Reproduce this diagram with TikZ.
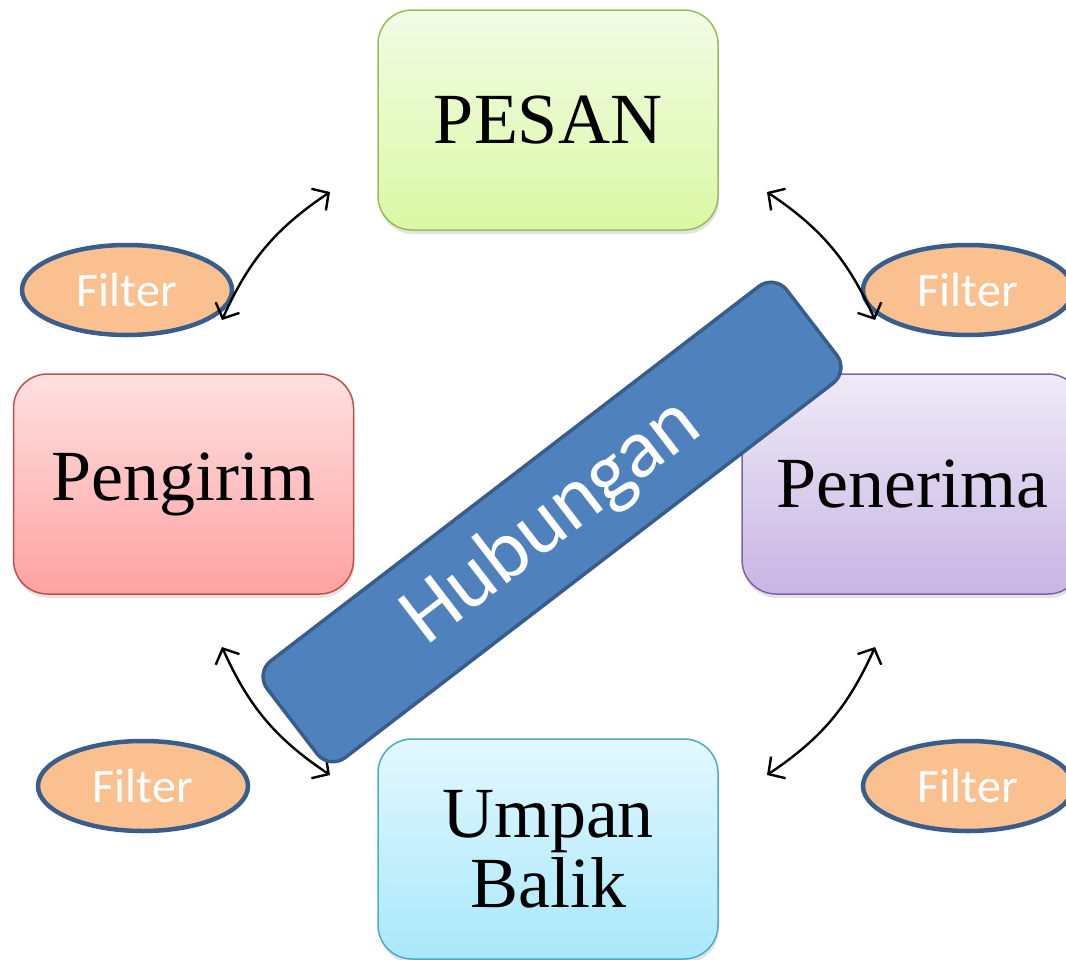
\documentclass[tikz,border=0pt]{standalone}
\usepackage{fontspec}
\setmainfont{Liberation Serif}
\newfontfamily\calfont{Carlito}
\usetikzlibrary{shadows,arrows.meta,shapes.geometric}
\definecolor{gTop}{HTML}{F2FCE6}
\definecolor{gBot}{HTML}{DAF8A4}
\definecolor{gBrd}{HTML}{9BBB59}
\definecolor{rTop}{HTML}{FFE0E0}
\definecolor{rBot}{HTML}{FFA2A2}
\definecolor{rBrd}{HTML}{C0504D}
\definecolor{pTop}{HTML}{EFEAF7}
\definecolor{pBot}{HTML}{C8B5E4}
\definecolor{pBrd}{HTML}{8064A2}
\definecolor{cTop}{HTML}{E3F8FE}
\definecolor{cBot}{HTML}{A8E8FB}
\definecolor{cBrd}{HTML}{4BACC6}
\definecolor{fFill}{HTML}{FAC090}
\definecolor{fBrd}{HTML}{3A5E8C}
\definecolor{hFill}{HTML}{4F81BD}
\definecolor{hBrd}{HTML}{385D8A}
\begin{document}
\begin{tikzpicture}[x=1pt,y=-1pt,
  box/.style={rounded corners=34pt, minimum width=340pt, minimum height=220pt,
    line width=1.5pt, inner sep=0pt, align=center,
    font=\fontsize{72}{70}\selectfont,
    drop shadow={shadow xshift=1pt,shadow yshift=-4pt,opacity=0.22}},
  filt/.style={ellipse, minimum width=210pt, minimum height=90pt, inner sep=0pt,
    fill=fFill, draw=fBrd, line width=4.5pt, text=white,
    font=\calfont\fontsize{48}{48}\selectfont},
  arr/.style={line width=2.4pt, {Straight Barb[length=12pt,width=26pt]}-{Straight Barb[length=12pt,width=26pt]}}
]
\useasboundingbox (0,0) rectangle (1066,959);

\node[box, top color=gTop, bottom color=gBot, draw=gBrd] (pesan) at (548,120) {PESAN};
\node[box, top color=rTop, bottom color=rBot, draw=rBrd] (pengirim) at (183.5,484) {Pengirim};
\node[box, top color=pTop, bottom color=pBot, draw=pBrd] (penerima) at (912,484) {Penerima};
\node[box, top color=cTop, bottom color=cBot, draw=cBrd] (umpan) at (548,849) {Umpan\\Balik};

\node[filt] (f1) at (127,290) {Filter};
\node[filt] (f2) at (968,290) {Filter};
\node[filt] (f3) at (143,786) {Filter};
\node[filt] (f4) at (968,786) {Filter};

\coordinate (a1) at (330,192);
\coordinate (b1) at (222,320);
\coordinate (a2) at (767,192);
\coordinate (b2) at (875,320);
\coordinate (a3) at (222,647);
\coordinate (b3) at (330,775);
\coordinate (a4) at (875,647);
\coordinate (b4) at (767,775);
\draw[arr] (a1) to[bend right=16] (b1);
\draw[arr] (a2) to[bend left=16] (b2);
\draw[arr] (a3) to[bend right=16] (b3);
\draw[arr] (a4) to[bend left=16] (b4);

\node[rotate=37.5, rounded corners=20pt, minimum width=655pt, minimum height=122pt,
  fill=hFill, draw=hBrd, line width=3.5pt, text=white, inner sep=0pt,
  font=\calfont\fontsize{84}{84}\selectfont] (hub) at (552,522) {Hubungan};
\end{tikzpicture}
\end{document}
